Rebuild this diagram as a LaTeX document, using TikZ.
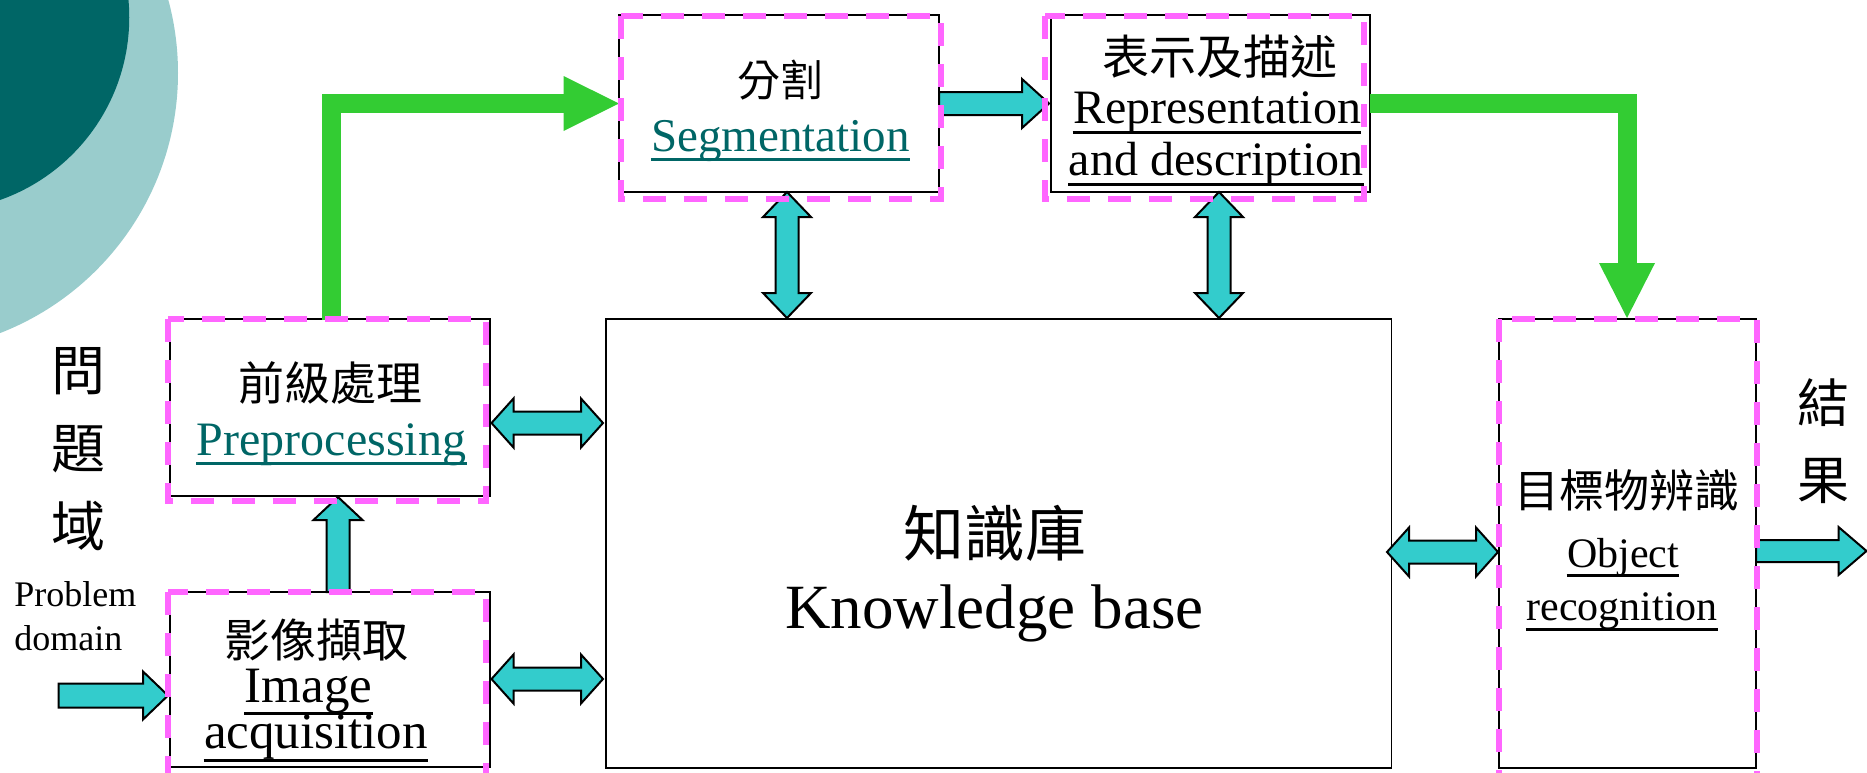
\documentclass[tikz,border=0pt]{standalone}
\usepackage{fontspec}
\setmainfont{Liberation Serif}
\newfontfamily\cjk{Noto Sans CJK TC}
\definecolor{tealA}{HTML}{33CCCC}
\definecolor{darkteal}{HTML}{006666}
\definecolor{lightteal}{HTML}{99CCCC}
\definecolor{grn}{HTML}{33CC33}
\definecolor{pinkd}{HTML}{FF66FF}
\tikzset{
  blackbox/.style={draw=black, line width=0.8pt, inner sep=0pt, rectangle},
  pinkdash/.style={draw=pinkd, line width=3pt, dash pattern=on 11.5pt off 9pt},
  blockarr/.style={fill=tealA, draw=black, line width=1pt, line join=miter},
  greenline/.style={draw=grn, line width=9.5pt, line join=miter},
  greenhead/.style={fill=grn},
  txt/.style={inner sep=0pt, anchor=base},
  cjktxt/.style={inner sep=0pt, align=center},
  ul/.style={line width=1.5pt},
}
\newcommand\mybox[5]{\node[blackbox, minimum width={(#4-#2)*0.5pt}, minimum height={(#5-#3)*0.5pt}] (#1) at ({(#2+#4)/2},{(#3+#5)/2}) {};}
\newcommand\rarr[6]{\filldraw[blockarr] (#1,{#3-#4}) -- ({#2-#6},{#3-#4}) -- ({#2-#6},{#3-#5}) -- (#2,#3) -- ({#2-#6},{#3+#5}) -- ({#2-#6},{#3+#4}) -- (#1,{#3+#4}) -- cycle;}
\newcommand\dharr[6]{\filldraw[blockarr] (#1,#3) -- ({#1+#6},{#3-#5}) -- ({#1+#6},{#3-#4}) -- ({#2-#6},{#3-#4}) -- ({#2-#6},{#3-#5}) -- (#2,#3) -- ({#2-#6},{#3+#5}) -- ({#2-#6},{#3+#4}) -- ({#1+#6},{#3+#4}) -- ({#1+#6},{#3+#5}) -- cycle;}
\newcommand\dvarr[6]{\filldraw[blockarr] (#1,#2) -- ({#1-#5},{#2+#6}) -- ({#1-#4},{#2+#6}) -- ({#1-#4},{#3-#6}) -- ({#1-#5},{#3-#6}) -- (#1,#3) -- ({#1+#5},{#3-#6}) -- ({#1+#4},{#3-#6}) -- ({#1+#4},{#2+#6}) -- ({#1+#5},{#2+#6}) -- cycle;}
\newcommand\uarr[6]{\filldraw[blockarr] (#1,#2) -- ({#1+#5},{#2+#6}) -- ({#1+#4},{#2+#6}) -- ({#1+#4},#3) -- ({#1-#4},#3) -- ({#1-#4},{#2+#6}) -- ({#1-#5},{#2+#6}) -- cycle;}
\newcommand\ulin[2]{\draw[ul,#2] ([yshift=-4pt]#1.base west) -- ([yshift=-4pt]#1.base east);}
\begin{document}
\begin{tikzpicture}[x=0.5pt,y=-0.5pt]
\useasboundingbox (0,0) rectangle (1867,772);
% background circles
\begin{scope}
\clip (0,0) rectangle (1867,772);
\fill[lightteal] (-100.9,73) circle [radius=139.45pt];
\fill[darkteal] (-64.25,17.4) circle [radius=96.75pt];
\end{scope}
% boxes
\mybox{seg}{619}{15}{939}{192}
\mybox{rep}{1051}{15}{1370}{192}
\mybox{pre}{170}{319}{490}{496}
\mybox{img}{170}{592}{490}{767}
\mybox{kb}{606}{319}{1391.5}{768}
\mybox{obj}{1499}{319}{1756}{768}
% green arrows
\draw[greenline] (331,{319+1}) -- (331,103.5) -- (564,103.5);
\fill[greenhead] (563.5,76) -- (619,103.5) -- (563.5,131) -- cycle;
\draw[greenline] (1370,103) -- (1627,103) -- (1627,264);
\fill[greenhead] (1599,263) -- (1655,263) -- (1627,318) -- cycle;
% teal block arrows
\rarr{939}{1049}{103.5}{11.5}{24.5}{27}
\dvarr{787}{192}{318}{11.5}{24}{25}
\dvarr{1219}{192}{318}{11.5}{24}{25}
\dharr{491.5}{603}{423}{11.5}{24.5}{22}
\dharr{491.5}{603}{679}{11.5}{24.5}{22}
\uarr{338}{497}{592}{11.5}{24.5}{23}
\rarr{58.5}{168}{695.5}{12}{24}{25}
\dharr{1387}{1498}{552}{11.5}{24.5}{22}
\rarr{1756}{1866.5}{551}{11}{24}{28}
% pink dashed frames
\draw[pinkdash] (621,16) rectangle (941,199);
\draw[pinkdash] (1045,16) rectangle (1364,199);
\draw[pinkdash] (168,319) rectangle (486,501);
\draw[pinkdash] (168,592) rectangle (486,776);
\draw[pinkdash] (1499,319) rectangle (1757,776);
% texts
\node[cjktxt, font=\cjk\fontsize{27}{39}\selectfont] (wenti) at (78,449) {問\\題\\域};
\node[txt, anchor=base west, font=\fontsize{18}{20}\selectfont] (prob) at (14,606) {Problem};
\node[txt, anchor=base west, font=\fontsize{18}{20}\selectfont] (dom) at (14,650) {domain};
\node[cjktxt, font=\cjk\fontsize{26}{38.5}\selectfont] (jieguo) at (1823,441) {結\\果};

\node[cjktxt, font=\cjk\fontsize{23}{26}\selectfont] (preZ) at (330,383) {前級處理};
\node[txt, text=darkteal, font=\fontsize{24}{26}\selectfont] (preE) at (331.5,455) {Preprocessing};
\ulin{preE}{darkteal}

\node[cjktxt, font=\cjk\fontsize{23}{26}\selectfont] (imgZ) at (316,640) {影像擷取};
\node[txt, font=\fontsize{25.5}{27}\selectfont] (imgE1) at (308.5,702) {Image};
\node[txt, font=\fontsize{25.5}{27}\selectfont] (imgE2) at (316,748) {acquisition};
\draw[ul] ([yshift=-5.5pt]imgE1.base west) -- ([yshift=-5.5pt]imgE1.base east);
\draw[ul] ([yshift=-6pt]imgE2.base west) -- ([yshift=-6pt]imgE2.base east);

\node[cjktxt, font=\cjk\fontsize{21.5}{24}\selectfont] (segZ) at (780,80) {分割};
\node[txt, text=darkteal, font=\fontsize{23.5}{26}\selectfont] (segE) at (780.5,151) {Segmentation};
\ulin{segE}{darkteal}

\node[cjktxt, font=\cjk\fontsize{23.5}{26}\selectfont] (repZ) at (1220,57) {表示及描述};
\node[txt, font=\fontsize{24}{26}\selectfont] (repE1) at (1217,123) {Representation};
\node[txt, font=\fontsize{24}{26}\selectfont] (repE2) at (1216,175) {and description};
\draw[ul] ([yshift=-4.5pt]repE1.base west) -- ([yshift=-4.5pt]repE1.base east);
\draw[ul] ([yshift=-4.5pt]repE2.base west) -- ([yshift=-4.5pt]repE2.base east);

\node[cjktxt, font=\cjk\fontsize{30.5}{34}\selectfont] (kbZ) at (995,533) {知識庫};
\node[txt, font=\fontsize{31.5}{34}\selectfont] (kbE) at (994.5,628) {Knowledge base};

\node[cjktxt, font=\cjk\fontsize{22.5}{25}\selectfont] (objZ) at (1627,490) {目標物辨識};
\node[txt, font=\fontsize{21}{24}\selectfont] (objE1) at (1623,567) {Object};
\node[txt, font=\fontsize{21}{24}\selectfont] (objE2) at (1622,620) {recognition};
\ulin{objE1}{black}
\draw[ul] ([yshift=-4.5pt]objE2.base west) -- ([yshift=-4.5pt]objE2.base east);
\end{tikzpicture}
\end{document}
